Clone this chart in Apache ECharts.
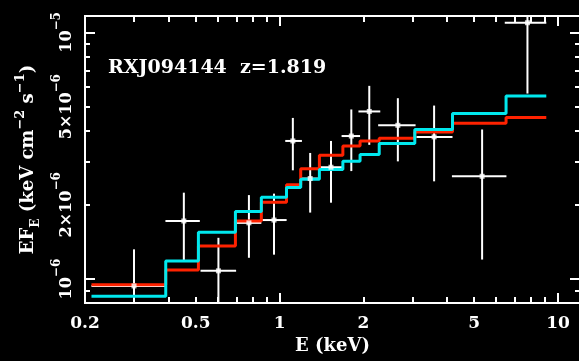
<!DOCTYPE html>
<html><head><meta charset="utf-8">
<script src="https://cdn.jsdelivr.net/npm/echarts@6/dist/echarts.min.js"></script>
<style>html,body{margin:0;padding:0;background:#000;}#c{width:579px;height:361px;}</style>
</head><body><div id="c"></div>
<script>
// model bin edges (keV)
const binEdges = [0.211, 0.39, 0.511, 0.694, 0.86, 1.059, 1.191, 1.39, 1.688, 1.946, 2.28, 3.06, 4.18, 6.51, 9.08];
// red model levels per bin
const modelRed = [0.949e-6, 1.088e-6, 1.361e-6, 1.72e-6, 2.048e-6, 2.412e-6, 2.801e-6, 3.177e-6, 3.466e-6, 3.631e-6, 3.724e-6, 3.95e-6, 4.284e-6, 4.519e-6];
// cyan model levels per bin
const modelCyan = [0.853e-6, 1.183e-6, 1.547e-6, 1.877e-6, 2.146e-6, 2.351e-6, 2.54e-6, 2.78e-6, 3.004e-6, 3.198e-6, 3.544e-6, 4.04e-6, 4.692e-6, 5.525e-6];
// data points
const dataE   = [0.30, 0.453, 0.603, 0.776, 0.955, 1.116, 1.288, 1.53, 1.81, 2.10, 2.66, 3.59, 5.34, 7.77];
const dataELo = [0.211, 0.389, 0.52, 0.698, 0.866, 1.048, 1.19, 1.39, 1.67, 1.92, 2.26, 3.10, 4.16, 6.44];
const dataEHi = [0.39, 0.517, 0.698, 0.86, 1.06, 1.203, 1.39, 1.696, 1.946, 2.30, 3.08, 4.18, 6.53, 9.08];
const dataF   = [0.938e-6, 1.72e-6, 1.08e-6, 1.69e-6, 1.735e-6, 3.63e-6, 2.556e-6, 2.84e-6, 3.8e-6, 4.78e-6, 4.2e-6, 3.77e-6, 2.61e-6, 1.094e-5];
const dataFLo = [0.6e-6, 1.18e-6, 0.7e-6, 1.22e-6, 1.256e-6, 2.76e-6, 1.86e-6, 2.04e-6, 2.74e-6, 3.5e-6, 3.0e-6, 2.49e-6, 1.2e-6, 5.65e-6];
const dataFHi = [1.32e-6, 2.24e-6, 1.47e-6, 2.19e-6, 2.22e-6, 4.5e-6, 3.245e-6, 3.63e-6, 4.87e-6, 6.07e-6, 5.41e-6, 5.05e-6, 4.04e-6, 1.4e-5];
// ticks
const xTickLabels = [0.2, 0.5, 1, 2, 5, 10];
const xMajorTicks = [1, 10];
const xMinorTicks = [0.3, 0.4, 0.5, 0.6, 0.7, 0.8, 0.9, 2, 3, 4, 5, 6, 7, 8, 9];
const yTickLabels = [1e-6, 2e-6, 5e-6, 1e-5];
const yMajorTicks = [1e-6, 1e-5];
const yMinorTicks = [9e-7, 2e-6, 3e-6, 4e-6, 5e-6, 6e-6, 7e-6, 8e-6, 9e-6];
const titleText = 'RXJ094144  z=1.819';

const X_MIN = 0.2, X_MAX = 12, Y_MIN = 8e-7, Y_MAX = 1.165e-5;
const FONT = 'DejaVu Serif';
const W = '#ffffff';

function stepData(levels) {
  const d = levels.map((v, i) => [binEdges[i], v]);
  d.push([binEdges[binEdges.length - 1], levels[levels.length - 1]]);
  return d;
}
function xAx(pos, ticks, len, labels) {
  return {
    type: 'log', logBase: 10, min: X_MIN, max: X_MAX, position: pos, gridIndex: 0,
    axisLine: { show: true, lineStyle: { color: W, width: 2 } },
    axisTick: { show: true, inside: true, length: len, customValues: ticks, lineStyle: { color: W, width: 2 } },
    axisLabel: labels ? { show: true, customValues: xTickLabels, color: W, fontFamily: FONT, fontWeight: 'bold', fontSize: 17, margin: 12, formatter: v => String(+v.toPrecision(3)) } : { show: false },
    splitLine: { show: false }, minorTick: { show: false }, minorSplitLine: { show: false }
  };
}
function yFmt(v) {
  const e = Math.floor(Math.log10(v) + 1e-9);
  const m = Math.round(v / Math.pow(10, e));
  return (m === 1 ? '{b|10}' : '{b|' + m + '×10}') + '{s|−' + (-e) + '}';
}
function yAx(pos, ticks, len, labels) {
  return {
    type: 'log', logBase: 10, min: Y_MIN, max: Y_MAX, position: pos, gridIndex: 0,
    axisLine: { show: pos === 'left', lineStyle: { color: W, width: 2 } },
    axisTick: { show: true, inside: true, length: len, customValues: ticks, lineStyle: { color: W, width: 2 } },
    axisLabel: labels ? {
      show: true, customValues: yTickLabels, rotate: 90, margin: 10, color: W, formatter: yFmt,
      rich: {
        b: { color: W, fontFamily: FONT, fontWeight: 'bold', fontSize: 16, verticalAlign: 'bottom', lineHeight: 24 },
        s: { color: W, fontFamily: FONT, fontWeight: 'bold', fontSize: 12, verticalAlign: 'top', lineHeight: 24 }
      }
    } : { show: false },
    splitLine: { show: false }, minorTick: { show: false }, minorSplitLine: { show: false }
  };
}

const xAxes = [xAx('bottom', xMinorTicks, 6, true), xAx('bottom', xMajorTicks, 10, false), xAx('top', xMinorTicks, 6, false), xAx('top', xMajorTicks, 10, false)];
xAxes[0].name = 'E (keV)';
xAxes[0].nameLocation = 'middle';
xAxes[0].nameGap = 30;
xAxes[0].nameTextStyle = { color: W, fontFamily: FONT, fontWeight: 'bold', fontSize: 18 };
const yAxes = [yAx('left', yMinorTicks, 5, true), yAx('left', yMajorTicks, 10, false), yAx('right', yMinorTicks, 5, false), yAx('right', yMajorTicks, 10, false)];
yAxes[0].name = '{n|EF}{sub|E}{n| (keV cm}{sup|−2}{n| s}{sup|−1}{n|)}';
yAxes[0].nameLocation = 'middle';
yAxes[0].nameRotate = 90;
yAxes[0].nameGap = 43;
yAxes[0].nameTextStyle = {
  color: W,
  rich: {
    n: { color: W, fontFamily: FONT, fontWeight: 'bold', fontSize: 18, verticalAlign: 'middle', lineHeight: 28 },
    sub: { color: W, fontFamily: FONT, fontWeight: 'bold', fontSize: 12, verticalAlign: 'bottom', lineHeight: 28 },
    sup: { color: W, fontFamily: FONT, fontWeight: 'bold', fontSize: 13, verticalAlign: 'top', lineHeight: 28 }
  }
};

const errData = dataE.map((e, i) => [e, dataELo[i], dataEHi[i], dataF[i], dataFLo[i], dataFHi[i]]);

const chart = echarts.init(document.getElementById('c'), null, { renderer: 'canvas' });
chart.setOption({
  backgroundColor: '#000',
  animation: false,
  title: { text: titleText, left: 108, top: 59, padding: 0, textStyle: { color: W, fontFamily: FONT, fontWeight: 'bold', fontSize: 19 } },
  grid: { left: 85, right: -1, top: 16, bottom: 58, containLabel: false, outerBoundsMode: 'none', show: false },
  xAxis: xAxes,
  yAxis: yAxes,
  series: [
    {
      type: 'custom', xAxisIndex: 0, yAxisIndex: 0, clip: true, z: 2,
      encode: { x: [0, 1, 2], y: [3, 4, 5] },
      data: errData,
      renderItem: function (params, api) {
        const c = api.coord([api.value(0), api.value(3)]);
        const l = api.coord([api.value(1), api.value(3)]);
        const r = api.coord([api.value(2), api.value(3)]);
        const lo = api.coord([api.value(0), api.value(4)]);
        const hi = api.coord([api.value(0), api.value(5)]);
        return {
          type: 'group', children: [
            { type: 'line', shape: { x1: l[0], y1: c[1], x2: r[0], y2: c[1] }, style: { stroke: W, lineWidth: 2 } },
            { type: 'line', shape: { x1: c[0], y1: lo[1], x2: c[0], y2: hi[1] }, style: { stroke: W, lineWidth: 2 } }
          ]
        };
      }
    },
    { type: 'line', step: 'end', xAxisIndex: 0, yAxisIndex: 0, data: stepData(modelRed), showSymbol: false, symbol: 'none', z: 3, lineStyle: { color: '#ff2200', width: 3 } },
    { type: 'line', step: 'end', xAxisIndex: 0, yAxisIndex: 0, data: stepData(modelCyan), showSymbol: false, symbol: 'none', z: 4, lineStyle: { color: '#00e8ee', width: 3 } },
    { type: 'scatter', xAxisIndex: 0, yAxisIndex: 0, data: dataE.map((e, i) => [e, dataF[i]]), symbol: 'rect', symbolSize: 5, z: 5, itemStyle: { color: W } }
  ]
});
</script></body></html>
